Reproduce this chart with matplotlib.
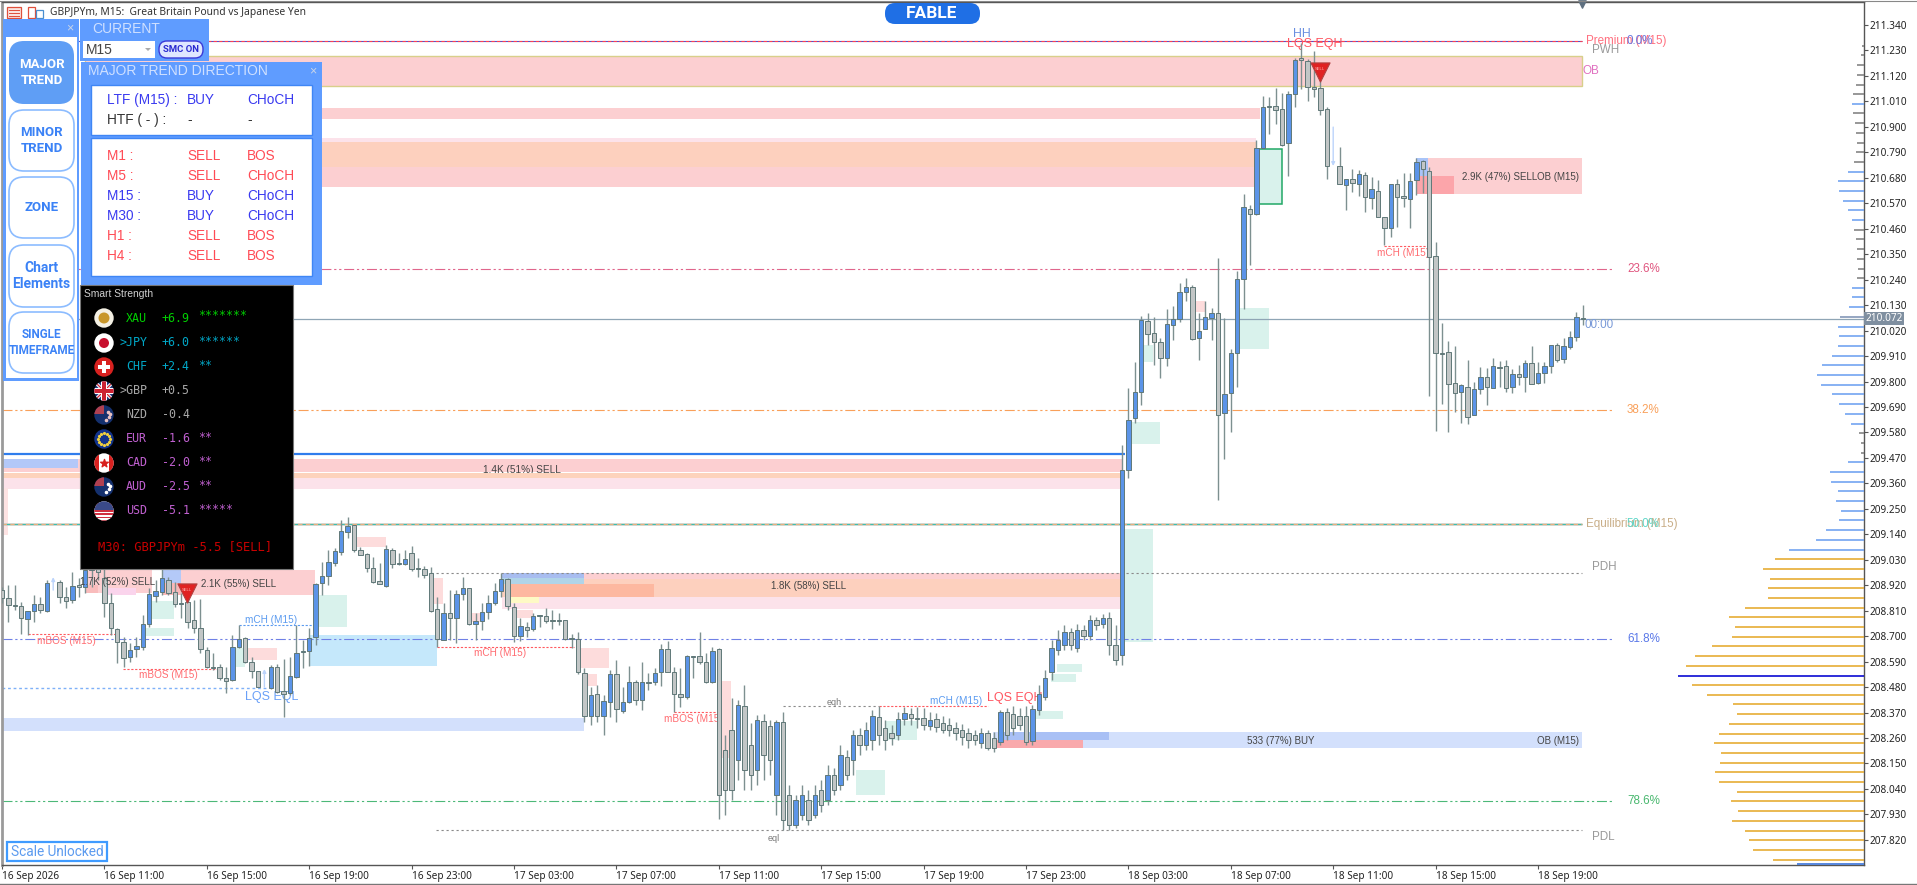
import numpy as np
import matplotlib
matplotlib.use("Agg")
import matplotlib.pyplot as plt
from matplotlib.patches import Rectangle, FancyBboxPatch, Circle, Polygon

plt.rcParams["font.family"] = ["Liberation Sans", "DejaVu Sans"]
nan = float("nan")

# candles, M15
opens = [208.899, 208.865, 208.834, 208.830, 208.774, 208.809, 208.839, 208.809, nan, 208.934,
         208.869, 208.856, 208.921, 208.912, 208.986, 209.050, 208.951, 208.843, 208.730, 208.674,
         208.610, 208.644, 208.653, 208.752, 208.873, 208.891, 208.942, 208.891, 208.839, 208.847,
         208.770, 208.735, 208.640, 208.566, 208.566, 208.519, 208.510, 208.653, 208.692, 208.588,
         208.549, nan, 208.476, 208.566, 208.463, 208.454, 208.523, 208.631, 208.636, 208.696,
         208.929, 208.960, 209.016, 209.063, 209.150, 209.180, 209.072, 209.055, 208.994, 208.938,
         208.916, 209.072, 209.011, 209.011, 209.059, 208.994, 208.990, 208.973, 208.817, 208.683,
         208.800, 208.778, 208.882, 208.908, 208.752, 208.765, 208.804, 208.843, 208.895, 208.947,
         208.826, 208.700, 208.739, 208.730, 208.787, 208.787, 208.770, 208.770, 208.770, 208.692,
         208.687, 208.541, 208.355, 208.450, 208.355, 208.415, 208.536, 208.376, 208.415, 208.502,
         208.424, 208.502, 208.502, 208.545, 208.644, 208.545, 208.450, 208.437, 208.610, 208.614,
         208.588, 208.502, 208.644, 208.208, 208.294, 208.165, 208.398, 208.230, 208.122, 208.333,
         208.312, 208.013, 208.329, 208.013, 207.884, 207.927, 207.992, 207.927, 208.035, 207.992,
         208.100, 208.057, 208.178, 208.165, 208.273, 208.230, 208.251, 208.350, 208.303, 208.281,
         208.273, 208.342, 208.363, 208.346, 208.346, 208.312, 208.342, 208.325, 208.316, 208.303,
         208.294, 208.281, 208.273, 208.238, 208.281, 208.260, 208.242, 208.372, 208.363, 208.355,
         208.355, 208.247, 208.381, 208.437, 208.545, 208.640, 208.662, 208.718, 208.649, 208.726,
         208.700, 208.770, 208.752, 208.778, 208.662, 208.618, 209.418, 209.642, 209.755, 210.061,
         210.009, 209.971, 209.901, 210.044, 210.070, 210.187, 210.208, 209.988, 210.027, 210.074,
         210.096, 209.664, 209.750, 209.923, 210.243, 210.545, 210.524, 210.809, 210.990, 210.990,
         210.977, 210.830, 211.042, 211.197, 211.184, 211.072, 211.068, 210.977, nan, 210.731,
         210.649, 210.675, 210.653, 210.692, 210.593, 210.623, 210.511, 210.463, 210.653, 210.601,
         210.588, 210.670, 210.752, 210.709, 210.342, 209.923, 209.927, 209.793, 209.755, 209.776,
         209.655, 209.768, 209.819, 209.772, 209.863, 209.867, 209.776, 209.832, 209.819, 209.880,
         209.793, 209.837, 209.867, 209.958, 209.897, 209.949, 209.992, 210.072]
highs = [208.912, 208.921, 208.921, 208.847, 208.809, 208.878, 208.869, 208.942, nan, 208.942,
         208.912, 208.977, 208.951, 209.029, 209.050, 209.072, 209.050, 208.886, 208.735, 208.696,
         208.670, 208.696, 208.791, 208.908, 208.942, 208.994, 208.955, 208.934, 208.886, 208.869,
         208.856, 208.860, 208.653, 208.627, 208.579, 208.566, 208.705, 208.748, 208.696, 208.610,
         208.549, nan, 208.575, 208.579, 208.601, 208.610, 208.748, 208.683, 208.735, 208.929,
         209.020, 209.072, 209.081, 209.202, 209.215, 209.180, 209.085, 209.059, 209.042, 209.016,
         209.094, 209.081, 209.059, 209.072, 209.089, 209.037, 209.003, 208.999, 208.869, 208.843,
         208.899, 208.899, 208.955, 208.908, 208.800, 208.843, 208.878, 208.929, 208.973, 208.951,
         208.843, 208.778, 208.761, 208.800, 208.791, 208.821, 208.813, 208.800, 208.770, 208.709,
         208.718, 208.562, 208.480, 208.489, 208.445, 208.554, 208.597, 208.480, 208.571, 208.510,
         208.588, 208.541, 208.562, 208.666, 208.679, 208.566, 208.562, 208.618, 208.614, 208.718,
         208.627, 208.653, 208.649, 208.273, 208.432, 208.424, 208.489, 208.325, 208.359, 208.363,
         208.338, 208.338, 208.372, 208.057, 208.013, 208.057, 208.035, 208.057, 208.078, 208.143,
         208.130, 208.230, 208.208, 208.294, 208.303, 208.329, 208.381, 208.398, 208.338, 208.316,
         208.372, 208.394, 208.389, 208.394, 208.389, 208.372, 208.368, 208.355, 208.346, 208.329,
         208.320, 208.303, 208.294, 208.303, 208.294, 208.286, 208.381, 208.389, 208.398, 208.389,
         208.398, 208.402, 208.489, 208.554, 208.683, 208.726, 208.748, 208.735, 208.752, 208.748,
         208.791, 208.783, 208.796, 208.804, 208.748, 209.526, 209.772, 209.884, 210.083, 210.096,
         210.079, 209.988, 210.113, 210.126, 210.225, 210.247, 210.217, 210.096, 210.148, 210.117,
         210.333, 210.074, 209.940, 210.277, 210.610, 210.562, 210.843, 211.033, 211.029, 211.068,
         211.046, 211.055, 211.197, 211.262, 211.193, 211.228, 211.102, 210.986, nan, 210.813,
         210.675, 210.718, 210.714, 210.705, 210.683, 210.670, 210.511, 210.653, 210.675, 210.701,
         210.701, 210.765, 210.757, 210.727, 210.403, 210.053, 209.975, 209.953, 209.789, 209.893,
         209.798, 209.863, 209.858, 209.901, 209.888, 209.893, 209.854, 209.871, 209.893, 209.953,
         209.884, 209.884, 209.958, 209.966, 209.988, 210.018, 210.100, 210.130]
lows = [208.843, 208.761, 208.813, 208.709, 208.705, 208.761, 208.800, 208.804, nan, 208.843,
        208.821, 208.843, 208.869, 208.886, 208.912, 208.942, 208.783, 208.705, 208.584, 208.566,
        208.588, 208.610, 208.640, 208.739, 208.847, 208.878, 208.878, 208.826, 208.778, 208.735,
        208.713, 208.627, 208.562, 208.554, 208.510, 208.454, 208.506, 208.649, 208.584, 208.519,
        208.480, nan, 208.471, 208.454, 208.350, 208.445, 208.519, 208.562, 208.571, 208.662,
        208.878, 208.921, 209.003, 209.050, 209.124, 209.063, 209.050, 208.977, 208.929, 208.925,
        208.912, 208.994, 209.007, 209.007, 208.981, 208.955, 208.951, 208.804, 208.653, 208.683,
        208.683, 208.670, 208.856, 208.748, 208.683, 208.726, 208.774, 208.834, 208.869, 208.813,
        208.674, 208.679, 208.696, 208.722, 208.739, 208.757, 208.730, 208.748, 208.683, 208.649,
        208.536, 208.329, 208.316, 208.329, 208.273, 208.350, 208.329, 208.368, 208.411, 208.402,
        208.381, 208.467, 208.489, 208.484, 208.545, 208.372, 208.394, 208.428, 208.519, 208.579,
        208.497, 208.497, 207.910, 207.927, 207.992, 208.078, 208.035, 208.035, 208.057, 208.078,
        208.100, 207.927, 207.862, 207.862, 207.871, 207.906, 207.884, 207.914, 207.940, 207.970,
        208.013, 208.035, 208.078, 208.100, 208.186, 208.208, 208.208, 208.230, 208.208, 208.230,
        208.251, 208.316, 208.316, 208.303, 208.294, 208.294, 208.286, 208.281, 208.268, 208.251,
        208.230, 208.217, 208.230, 208.217, 208.208, 208.199, 208.230, 208.251, 208.273, 208.294,
        208.230, 208.230, 208.359, 208.424, 208.510, 208.618, 208.640, 208.640, 208.631, 208.683,
        208.683, 208.726, 208.735, 208.618, 208.575, 208.575, 209.383, 209.621, 209.698, 209.958,
        209.871, 209.815, 209.867, 209.979, 210.057, 210.148, 209.979, 209.893, 210.027, 209.979,
        209.288, 209.465, 209.582, 209.776, 210.113, 210.303, 210.519, 210.809, 210.869, 210.912,
        210.817, 210.688, 210.986, 211.064, 211.012, 211.029, 210.951, 210.675, nan, 210.653,
        210.541, 210.619, 210.601, 210.532, 210.545, 210.511, 210.390, 210.424, 210.467, 210.554,
        210.463, 210.606, 210.614, 209.737, 209.586, 209.703, 209.582, 209.668, 209.621, 209.616,
        209.655, 209.746, 209.698, 209.772, 209.776, 209.755, 209.750, 209.785, 209.755, 209.789,
        209.789, 209.793, 209.837, 209.884, 209.880, 209.940, 209.975, 210.044]
closes = [208.865, 208.834, 208.830, 208.778, 208.809, 208.839, 208.813, 208.929, nan, 208.869,
          208.852, 208.916, 208.912, 208.986, 209.029, 208.977, 208.843, 208.735, 208.674, 208.605,
          208.640, 208.657, 208.752, 208.882, 208.895, 208.951, 208.886, 208.839, 208.843, 208.761,
          208.735, 208.644, 208.566, 208.562, 208.519, 208.506, 208.653, 208.687, 208.588, 208.549,
          208.480, nan, 208.566, 208.458, 208.450, 208.528, 208.627, 208.636, 208.692, 208.925,
          208.960, 209.020, 209.068, 209.154, 209.176, 209.072, 209.050, 208.994, 208.934, 208.925,
          209.076, 209.011, 209.016, 209.033, 208.990, 208.990, 208.964, 208.809, 208.687, 208.800,
          208.778, 208.882, 208.908, 208.752, 208.765, 208.804, 208.843, 208.895, 208.947, 208.830,
          208.700, 208.744, 208.726, 208.787, 208.791, 208.765, 208.765, 208.765, 208.687, 208.687,
          208.545, 208.355, 208.445, 208.355, 208.420, 208.536, 208.385, 208.415, 208.502, 208.424,
          208.502, 208.497, 208.541, 208.644, 208.545, 208.450, 208.437, 208.614, 208.614, 208.588,
          208.502, 208.636, 208.013, 208.035, 208.035, 208.402, 208.122, 208.100, 208.338, 208.186,
          208.165, 208.329, 207.906, 207.884, 207.992, 208.013, 207.906, 208.013, 207.970, 208.100,
          208.035, 208.186, 208.100, 208.273, 208.230, 208.294, 208.355, 208.273, 208.251, 208.260,
          208.342, 208.368, 208.346, 208.342, 208.316, 208.338, 208.307, 208.294, 208.294, 208.281,
          208.264, 208.251, 208.251, 208.281, 208.217, 208.217, 208.372, 208.273, 208.303, 208.316,
          208.242, 208.385, 208.450, 208.519, 208.649, 208.683, 208.718, 208.662, 208.726, 208.700,
          208.770, 208.748, 208.778, 208.662, 208.597, 209.418, 209.634, 209.755, 210.066, 210.005,
          209.971, 209.901, 210.048, 210.070, 210.187, 210.208, 209.984, 210.018, 210.079, 210.096,
          209.655, 209.746, 209.923, 210.243, 210.554, 210.524, 210.809, 210.986, 210.986, 210.973,
          210.822, 211.042, 211.189, 211.189, 211.072, 211.064, 210.973, 210.731, nan, 210.653,
          210.675, 210.657, 210.696, 210.597, 210.631, 210.511, 210.463, 210.653, 210.597, 210.593,
          210.666, 210.748, 210.718, 210.338, 209.923, 209.919, 209.789, 209.750, 209.785, 209.647,
          209.768, 209.819, 209.776, 209.867, 209.858, 209.772, 209.832, 209.819, 209.880, 209.789,
          209.837, 209.867, 209.958, 209.893, 209.953, 209.992, 210.079, 210.074]

price_ticks = [211.34, 211.23, 211.12, 211.01, 210.90, 210.79, 210.68, 210.57, 210.46, 210.35, 210.24,
               210.13, 210.02, 209.91, 209.80, 209.69, 209.58, 209.47, 209.36, 209.25, 209.14, 209.03,
               208.92, 208.81, 208.70, 208.59, 208.48, 208.37, 208.26, 208.15, 208.04, 207.93, 207.82]
time_labels = ["16 Sep 2026", "16 Sep 11:00", "16 Sep 15:00", "16 Sep 19:00", "16 Sep 23:00", "17 Sep 03:00",
               "17 Sep 07:00", "17 Sep 11:00", "17 Sep 15:00", "17 Sep 19:00", "17 Sep 23:00", "18 Sep 03:00",
               "18 Sep 07:00", "18 Sep 11:00", "18 Sep 15:00", "18 Sep 19:00"]
time_bars = [0, 16, 32, 48, 64, 80, 96, 112, 128, 144, 160, 176, 192, 208, 224, 240]

# volume profile on the right
vp_prices = [211.251, 211.209, 211.167, 211.125, 211.083, 211.042, 211.000, 210.958, 210.916, 210.874,
             210.832, 210.790, 210.749, 210.707, 210.665, 210.623, 210.581, 210.539, 210.497, 210.456,
             210.414, 210.372, 210.330, 210.288, 210.246, 210.204, 210.163, 210.121, 210.079, 210.037,
             209.995, 209.953, 209.911, 209.870, 209.828, 209.786, 209.744, 209.702, 209.660, 209.618,
             209.577, 209.535, 209.493, 209.451, 209.409, 209.367, 209.325, 209.284, 209.242, 209.200,
             209.158, 209.116, 209.074, 209.032, 208.991, 208.949, 208.907, 208.865, 208.823, 208.781,
             208.739, 208.698, 208.656, 208.614, 208.572, 208.530, 208.488, 208.446, 208.405, 208.363,
             208.321, 208.279, 208.237, 208.195, 208.153, 208.112, 208.070, 208.028, 207.986, 207.944,
             207.902, 207.860, 207.819, 207.777, 207.735]
vp_volumes = [5, 8, 20, 20, 25, 32, 37, 32, 27, 25, 20, 25, 30, 48, 77, 75, 63, 48, 37, 30,
              25, 20, 20, 18, 20, 37, 37, 45, 72, 77, 75, 77, 95, 125, 140, 128, 95, 75, 57, 38,
              15, 10, 8, 48, 102, 98, 77, 85, 68, 75, 115, 145, 224, 267, 303, 282, 288, 288, 358, 404,
              387, 395, 456, 507, 533, 558, 517, 471, 392, 380, 404, 435, 450, 430, 432, 447, 435, 380, 398, 377,
              395, 358, 344, 332, 272]
vp_grey = [0, 1, 2, 3, 4, 5, 7, 8, 9, 10, 11, 12, 19, 20, 21, 22, 23, 24, 40, 41, 42]
vp_first_orange = 53
vp_poc = 65

# supply/demand zones: first bar, last bar, top price, bottom price, colour
zone_x0 = [13, 32.5, 32.5, 32.5, 32.5, 0, 0, 25, 25, 25, 13, 16.4, 13,
           23.1, 22.5, 36.1, 38.4, 49.2, 48.1, 55.3, 67.3, 73.3, 90.3, 91.4, 80.3, 112.5, 16,
           78.1, 78.1, 78.1, 78.1, 78.1, 79, 79, 0, 154.8, 156.3, 154.8, 221, 221, 221,
           178.3, 193.3, 176.3, 186.3, 175, 133.4, 138.1, 164.8, 163.9, 161]
zone_x1 = [246.9, 196.6, 196, 196, 196, 175, 11.9, 48.9, 28, 28, 23.4, 21, 15,
           26.9, 26.9, 38, 43, 53.9, 68, 60, 68.9, 74.7, 94.8, 93, 83, 113.9, 16,
           174.8, 174.8, 174.8, 90.9, 90.9, 101.9, 83.9, 91, 246.9, 173, 168.9, 246.9, 222.8, 226.9,
           179.8, 198, 180.9, 188, 179.8, 138, 143, 168.8, 167.8, 165.8]
zone_top = [211.206, 210.981, 210.852, 210.835, 210.727, 209.465, 209.465, 208.986, 208.986, 208.929, 208.986, 208.908, 208.921,
            208.852, 208.735, 208.649, 208.649, 208.878, 208.705, 209.128, 208.951, 208.800, 208.649, 208.536, 208.813, 208.506, 208.000,
            208.973, 208.947, 208.869, 208.973, 208.951, 208.925, 208.869, 208.346, 208.286, 208.286, 208.251, 210.765, 210.765, 210.688,
            209.958, 210.117, 209.625, 210.148, 209.163, 208.122, 208.333, 208.579, 208.536, 208.376]
zone_bot = [211.078, 210.934, 210.835, 210.727, 210.640, 209.409, 209.426, 208.878, 208.929, 208.878, 208.886, 208.878, 208.886,
            208.774, 208.700, 208.566, 208.597, 208.739, 208.571, 209.085, 208.839, 208.761, 208.562, 208.484, 208.778, 208.173, 208.000,
            208.947, 208.869, 208.817, 208.951, 208.925, 208.869, 208.843, 208.290, 208.217, 208.251, 208.217, 210.610, 210.688, 210.610,
            209.884, 209.940, 209.530, 210.100, 208.674, 208.013, 208.251, 208.545, 208.502, 208.342]
pink, lpink, oran, ppale, green = "#fccfd1", "#fce2ea", "#fdd0be", "#fddcdc", "#d9f2ec"
pale_blue = "#d3e0fc"
zone_color = [pink, pink, lpink, oran, pink, pink, "#b3c8f8", pink, "#b4c9f8", "#f9b8b8", pink, "#fad4ec", "#f9bcbc",
              green, green, green, ppale, green, "#c5e8fb", ppale, ppale, ppale, ppale, ppale, ppale, ppale, ppale,
              pink, oran, lpink, "#a8bdf0", "#b0d4e8", "#fdb8a0", "#fefac5", pale_blue, pale_blue, "#a9c0f5", "#f9a9ac", pink, "#a9c4f8", "#fca5aa",
              green, green, green, ppale, green, green, green, green, green, green]

# fib and session levels: price, first bar, last bar, colour, style
fib_dash = (0, (9, 2.5, 2, 2.5, 2, 2.5))
level_price = [211.273, 210.284, 209.675, 208.686, 207.986, 209.183, 209.183, 211.273]
level_x1 = [246.9, 251.6, 251.6, 251.6, 251.6, 246.9, 246.9, 246.9]
level_color = ["#5a50c8", "#e0668c", "#f9a05a", "#6f80e6", "#4cb878", "#3cc0b0", "#e8b080", "#ff4050"]
level_style = ["-", fib_dash, fib_dash, fib_dash, fib_dash, "-", (0, (4, 3)), (0, (3, 2))]
dash_price = [208.971, 207.862, 208.398]
dash_x0 = [67, 67.8, 122]
dash_x1 = [246.9, 246.9, 137]
struct_price = [208.709, 208.558, 208.653, 208.372, 210.387, 208.398]
struct_x0 = [4, 18.9, 68, 105, 216, 137]
struct_x1 = [17.7, 33.6, 89.3, 112, 223, 154]

# chart labels: bar, price, text, colour, size, horizontal alignment
lab_x = [12.2, 31.1, 120.2, 228.1, 246.4, 194.5, 246.4,
         5.5, 21.4, 103.4, 73.8, 214.8,
         38, 145, 38, 153.9, 200.8, 201.7, 128.8, 119.7,
         247.5, 253.9, 248.4, 247, 253.9, 253.9, 253.9, 253.9, 247.5, 253.9, 248.4, 248.4, 247.2]
lab_y = [208.934, 208.925, 208.916, 210.683, 210.683, 208.247, 208.247,
         208.679, 208.532, 208.342, 208.627, 210.355,
         208.770, 208.420, 208.437, 208.432, 211.258, 211.301, 208.415, 207.828,
         211.273, 211.273, 211.232, 211.141, 210.284, 209.675, 208.686, 207.986, 209.183, 209.183, 208.999, 207.832, 210.044]
lab_text = ["1.7K (52%) SELL", "2.1K (55%) SELL", "1.8K (58%) SELL", "2.9K (47%) SELL", "OB (M15)", "533 (77%) BUY", "OB (M15)",
            "mBOS (M15)", "mBOS (M15)", "mBOS (M15", "mCH (M15)", "mCH (M15)",
            "mCH (M15)", "mCH (M15)", "LQS EQL", "LQS EQH", "LQS EQH", "HH", "eqh", "eql",
            "Premium (M15)", "0.0%", "PWH", "OB", "23.6%", "38.2%", "61.8%", "78.6%", "Equilibrium (M15)", "50.0%", "PDH", "PDL", "00:00"]
dark_t, red_t, blue_t, grey_t = "#444444", "#ff6b70", "#5b9bf0", "#9a9a9a"
lab_color = [dark_t] * 7 + [red_t] * 5 + [blue_t, blue_t, "#6aa0f8", "#ff5560", "#ff5560", "#6a8fe0", "#777777", "#777777",
             "#ff6f7f", "#6a78e0", grey_t, "#e070c0", "#e0557f", "#f9a05a", "#5a78e8", "#49b86f", "#c9ae88", "#5fd6c8", grey_t, grey_t, "#7a9ad8"]
lab_size = [7.0] * 7 + [7.2] * 5 + [7.2, 7.2, 9, 9, 9, 8.8, 6.5, 6.5] + [8.4] * 13
lab_ha = ["left"] * 4 + ["right", "left", "right"] + ["left"] * 26
lab_z = [5.5] + [1.7] * 32

arrow_bar = [8, 41, 208]
arrow_from = [208.899, 208.480, 210.899]
arrow_to = [208.955, 208.558, 210.731]
sell_bar = [28.9, 206]
sell_price = [208.886, 211.137]

# panels
panel_ltf = [("LTF (M15) :", "BUY", "CHoCH"), ("HTF ( - ) :", "-", "-")]
panel_tf = [("M1 :", "SELL", "BOS"), ("M5 :", "SELL", "CHoCH"), ("M15 :", "BUY", "CHoCH"),
            ("M30 :", "BUY", "CHoCH"), ("H1 :", "SELL", "BOS"), ("H4 :", "SELL", "BOS")]
strength_names = ["XAU", ">JPY", "CHF", ">GBP", "NZD", "EUR", "CAD", "AUD", "USD"]
strength_vals = ["+6.9", "+6.0", "+2.4", "+0.5", "-0.4", "-1.6", "-2.0", "-2.5", "-5.1"]
strength_stars = [7, 6, 2, 0, 0, 2, 2, 2, 5]
strength_cols = ["#00d000", "#00a8c8", "#00a8c8", "#a8a8a8", "#a8a8a8", "#c060d0", "#c060d0", "#c060d0", "#c060d0"]
buttons = ["MAJOR\nTREND", "MINOR\nTREND", "ZONE", "Chart\nElements", "SINGLE\nTIMEFRAME"]
button_sizes = [9.5, 9.5, 9.5, 10, 8.5]

fig = plt.figure(figsize=(19.17, 8.85), dpi=100, facecolor="white")
ax = fig.add_axes([2 / 1917, 20 / 885, 1862 / 1917, 863 / 885])
ax.set_xlim(0, 1862 / 6.4)
ax.set_ylim(207.7115, 211.4394)

o = np.array(opens)
h = np.array(highs)
l = np.array(lows)
c = np.array(closes)
x = np.arange(len(o))

# zones
for i in range(len(zone_x0)):
    edge = "#d8cf8a" if i == 0 else "none"
    ax.add_patch(Rectangle((zone_x0[i], zone_bot[i]), zone_x1[i] - zone_x0[i], zone_top[i] - zone_bot[i],
                           facecolor=zone_color[i], edgecolor=edge, lw=1.0, zorder=1))
ax.add_patch(Rectangle((196.2, 210.567), 3.8, 0.237, facecolor=green, edgecolor="#22a866", lw=1.1, zorder=1.2))

# text gets cut by the strip under it
ax.text(75.2, 209.418, "1.4K (51%) SELL", color=dark_t, fontsize=7.2, va="center", zorder=1.25)
ax.add_patch(Rectangle((0, 209.383), 175, 0.022, facecolor="#fdd3bc", edgecolor="none", zorder=1.3))
ax.add_patch(Rectangle((0, 209.336), 175, 0.047, facecolor=lpink, edgecolor="none", zorder=1.3))
ax.add_patch(Rectangle((0, 209.137), 1, 0.203, facecolor="#fde3e3", edgecolor="none", zorder=1.3))

# levels
for i in range(len(level_price)):
    ax.hlines(level_price[i], 0, level_x1[i], color=level_color[i], lw=0.8, linestyles=[level_style[i]], zorder=1.5)
ax.hlines(209.183, 0, 246.9, color="#d0d0c8", lw=1.8, zorder=1.4)
ax.hlines(209.487, 0, 175.5, color="#2f7ded", lw=1.6, zorder=1.5)
ax.hlines(210.072, 0, 290.94, color="#8fa5b5", lw=0.9, zorder=1.5)
ax.hlines(208.477, 0, 41.5, color="#7eb0f8", lw=1.0, linestyles=[(0, (2, 2))], zorder=1.5)
ax.hlines(dash_price, dash_x0, dash_x1, color="#8a8a8a", lw=0.8, linestyles=[(0, (2, 2.5))], zorder=1.5)
ax.hlines(struct_price, struct_x0, struct_x1, color="#ff5a60", lw=0.8, linestyles=[(0, (2, 1.5))], zorder=1.5)
ax.hlines(208.748, 37, 48.6, color="#5b9bf0", lw=0.8, linestyles=[(0, (2, 1.5))], zorder=1.5)

for i in range(len(lab_text)):
    ax.text(lab_x[i], lab_y[i], lab_text[i], color=lab_color[i], fontsize=lab_size[i], ha=lab_ha[i],
            va="center", zorder=lab_z[i], clip_on=False)

for i in range(len(arrow_bar)):
    ax.annotate("", xy=(arrow_bar[i], arrow_to[i]), xytext=(arrow_bar[i], arrow_from[i]),
                arrowprops=dict(arrowstyle="-|>", color="#bcd4fb", lw=1, mutation_scale=5, shrinkA=0, shrinkB=0), zorder=2)

# volume profile
vp_v = np.array(vp_volumes) / 19.2
vp_c = ["#6da0f0"] * len(vp_v)
for i in vp_grey:
    vp_c[i] = "#808080"
for i in range(vp_first_orange, len(vp_c)):
    vp_c[i] = "#e5a92c"
vp_c[vp_poc] = "#0000d0"
vp_c[28] = "#7f93b5"
ax.hlines(vp_prices, 290.94 - vp_v, 290.94, colors=vp_c, lw=1.15, zorder=3)
ax.hlines(207.716, 290.94 - 10.4, 290.94, color="#4a7fdc", lw=1.3, zorder=3)

# candles
up = c >= o
ax.vlines(x, l, h, color="#7d9090", lw=1.0, zorder=4)
ax.bar(x, np.maximum(np.abs(c - o), 0.004), bottom=np.minimum(o, c), width=0.68,
       color=np.where(up, "#5b94e8", "#c2c6c6"), edgecolor="#607878", linewidth=0.7, zorder=5)

ax.scatter(sell_bar, sell_price, marker="v", s=190, color="#e02222", edgecolor="#b04040", linewidth=0.8, zorder=6)
for i in range(len(sell_bar)):
    ax.text(sell_bar[i], sell_price[i] + 0.012, "SELL", color="#ffb0b0", fontsize=3, ha="center", va="center", zorder=7)

# axes
ax.yaxis.tick_right()
ax.set_yticks(price_ticks)
ax.set_yticklabels(["%.3f" % p for p in price_ticks], fontfamily="Noto Sans", fontsize=7.2, color="#222222")
ax.set_xticks(time_bars)
ax.set_xticklabels(time_labels, fontfamily="Noto Sans", fontsize=7.2, color="#222222", ha="left")
ax.tick_params(axis="both", length=3, width=0.8, color="#555555", pad=1)
for s in ["top", "right", "bottom"]:
    ax.spines[s].set_color("#555555")
    ax.spines[s].set_linewidth(1.0)
ax.spines["left"].set_color("#9a9a9a")
ax.spines["left"].set_linewidth(2.0)

ax.text(1.0008, 210.072, "210.072", transform=ax.get_yaxis_transform(), fontfamily="Noto Sans", fontsize=7.2, color="white",
        va="center", ha="left", clip_on=False, zorder=8,
        bbox=dict(boxstyle="square,pad=0.12", facecolor="#7f8fa0", edgecolor="none"))
ax.scatter([246.9], [211.43], marker="v", s=28, color="#5f7080", zorder=8, clip_on=False)

# ui layer in pixels
ui = fig.add_axes([0, 0, 1, 1], zorder=5)
ui.set_xlim(0, 1917)
ui.set_ylim(885, 0)
ui.axis("off")
ui.patch.set_alpha(0)


def box(x0, y0, x1, y1, fc, ec="none", lw=0, z=1):
    ui.add_patch(Rectangle((x0, y0), x1 - x0, y1 - y0, facecolor=fc, edgecolor=ec, lw=lw, zorder=z))


def rbox(x0, y0, x1, y1, r, fc, ec="none", lw=0, z=2):
    ui.add_patch(FancyBboxPatch((x0, y0), x1 - x0, y1 - y0, boxstyle="round,pad=0,rounding_size=%g" % r,
                                facecolor=fc, edgecolor=ec, lw=lw, zorder=z))


def label(px, py, s, col, size, ha="left", weight="normal", family=None, z=4):
    kw = {"family": family} if family else {}
    ui.text(px, py, s, color=col, fontsize=size, ha=ha, va="center", fontweight=weight, zorder=z, **kw)


ui.plot([0, 1917], [884, 884], color="#777777", lw=1)
ui.plot([0, 1917], [1, 1], color="#888888", lw=0.8)

# header
label(50, 13, "GBPJPYm, M15:  Great Britain Pound vs Japanese Yen", "#333333", 7.4, family="Noto Sans")
box(7, 7, 21, 18, "#fbe5e0", "#e0503c", 0.9)
for yy in [10, 13, 15.5]:
    ui.plot([9, 19], [yy, yy], color="#e0503c", lw=0.7, zorder=3)
box(28, 7, 35, 18, "white", "#e0503c", 0.9)
box(36, 10, 43, 18, "white", "#4a8fd0", 0.9)
rbox(885, 3, 980, 24, 10, "#1f6fe5")
label(932, 13.5, "FABLE", "white", 12.5, ha="center", weight="bold", family="Roboto")

# left buttons
box(3, 19, 79, 381, "#5f9cff", z=1)
box(6, 37, 77, 378, "white", z=1.5)
label(70, 28, "×", "#c8d4e8", 9, ha="center")
btn_y = [(41, 104), (110, 171), (177, 238), (245, 307), (312, 373)]
for n, (y0, y1) in enumerate(btn_y):
    if n == 0:
        rbox(9, y0, 74, y1, 15, "#5f9ef5")
        col = "white"
    else:
        rbox(9, y0, 74, y1, 15, "white", "#8cbcff", 1.2)
        col = "#3b82f6"
    label(41.5, (y0 + y1) / 2, buttons[n], col, button_sizes[n], ha="center", weight="bold", family="Roboto")

# current panel
box(80, 19, 209, 61, "#5f9cff", z=1)
label(92, 29, "CURRENT", "#cfe0ff", 10)
box(83, 41, 155, 58, "white", z=2)
label(86, 49.5, "M15", "#444444", 10)
ui.add_patch(Polygon([[145, 48], [151, 48], [148, 51]], closed=True, facecolor="#aaaaaa", edgecolor="none", zorder=3))
rbox(159, 41, 203, 58, 8, "#dfe6ff", "#3a3ad8", 1)
label(181, 49.5, "SMC ON", "#2a2ad0", 6.8, ha="center", weight="bold", family="Roboto")

# trend panel
box(81, 62, 322, 285, "#5f9cff", z=1)
label(88, 71, "MAJOR TREND DIRECTION", "#cfe0ff", 10)
label(313, 71, "×", "#c8d4e8", 9, ha="center")
box(91, 85, 312, 135, "white", "#3f86f5", 1, z=2)
box(91, 138, 312, 276, "white", "#3f86f5", 1, z=2)
rows_y = [100, 120]
for r, row in enumerate(panel_ltf):
    col = "#3a3af0" if r == 0 else "#333333"
    label(107, rows_y[r], row[0], col, 9.8)
    label(187, rows_y[r], row[1], col, 9.8)
    label(247, rows_y[r], row[2], col, 9.8)
rows_y = [156, 176, 196, 216, 236, 256]
for r, row in enumerate(panel_tf):
    col = "#3a3af0" if row[1] == "BUY" else "#ff4b55"
    label(107, rows_y[r], row[0], col, 9.8)
    label(187, rows_y[r], row[1], col, 9.8)
    label(247, rows_y[r], row[2], col, 9.8)

# strength panel
box(80, 285, 293, 569, "black", "#777777", 0.8, z=2)
label(84, 294, "Smart Strength", "#d0d0d0", 7.4)
mono = "DejaVu Sans Mono"
rows_y = [318, 343, 367, 391, 415, 439, 463, 487, 511]
for r, name in enumerate(strength_names):
    col = strength_cols[r]
    label(126 if name[0] != ">" else 119, rows_y[r], name, col, 8.4, family=mono)
    label(162, rows_y[r], strength_vals[r], col, 8.4, family=mono)
    if strength_stars[r]:
        label(198, rows_y[r] - 2, "*" * strength_stars[r], col, 8.4, family=mono)
label(98, 547, "M30: GBPJPYm -5.5 [SELL]", "#c80000", 8.7, family=mono)

# flags
flag_base = ["#f4f0e4", "white", "#d8211f", "#1f3a80", "#14306e", "#13348c", "white", "#14306e", "white"]
for r, fc in enumerate(flag_base):
    cx, cy = 104, rows_y[r]
    disc = Circle((cx, cy), 9.7, facecolor=fc, edgecolor="none", zorder=3)
    ui.add_patch(disc)
    if r == 0:
        ui.add_patch(Circle((cx, cy), 5.5, facecolor="#c8962a", zorder=3.1))
    elif r == 1:
        ui.add_patch(Circle((cx, cy), 5, facecolor="#c8102e", zorder=3.1))
    elif r == 2:
        box(cx - 6, cy - 2, cx + 6, cy + 2, "white", z=3.1)
        box(cx - 2, cy - 6, cx + 2, cy + 6, "white", z=3.1)
    elif r == 3:
        for sgn in [1, -1]:
            ln, = ui.plot([cx - 10, cx + 10], [cy - 10 * sgn, cy + 10 * sgn], color="white", lw=2.4, zorder=3.1)
            ln.set_clip_path(disc)
            ln, = ui.plot([cx - 10, cx + 10], [cy - 10 * sgn, cy + 10 * sgn], color="#cc2233", lw=0.9, zorder=3.2)
            ln.set_clip_path(disc)
        p1 = Rectangle((cx - 10, cy - 3), 20, 6, facecolor="white", zorder=3.3)
        p2 = Rectangle((cx - 3, cy - 10), 6, 20, facecolor="white", zorder=3.3)
        p3 = Rectangle((cx - 10, cy - 1.6), 20, 3.2, facecolor="#cc2233", zorder=3.4)
        p4 = Rectangle((cx - 1.6, cy - 10), 3.2, 20, facecolor="#cc2233", zorder=3.4)
        for p in [p1, p2, p3, p4]:
            ui.add_patch(p)
            p.set_clip_path(disc)
    elif r in (4, 7):
        p = Rectangle((cx - 10, cy - 10), 10, 9, facecolor="#b04050", zorder=3.1)
        ui.add_patch(p)
        p.set_clip_path(disc)
        ui.scatter([cx + 4, cx + 5, cx + 2, cx + 6], [cy - 3, cy + 2, cy + 5, cy - 1], s=2.5, color="#e8c0c0" if r == 4 else "white", zorder=3.2)
    elif r == 5:
        ang = np.radians(np.arange(0, 360, 30))
        ui.scatter(cx + 6 * np.cos(ang), cy + 6 * np.sin(ang), s=1.6, color="#f0d040", zorder=3.1)
    elif r == 6:
        for xs in [cx - 10, cx + 5]:
            p = Rectangle((xs, cy - 10), 5, 20, facecolor="#d8211f", zorder=3.1)
            ui.add_patch(p)
            p.set_clip_path(disc)
        ui.scatter([cx], [cy], marker="*", s=34, color="#d8211f", zorder=3.1)
    elif r == 8:
        for yy in np.arange(-8, 10, 3.4):
            p = Rectangle((cx - 10, cy + yy), 20, 1.7, facecolor="#d03040", zorder=3.1)
            ui.add_patch(p)
            p.set_clip_path(disc)
        p = Rectangle((cx - 10, cy - 10), 20, 9, facecolor="#3a4a88", zorder=3.2)
        ui.add_patch(p)
        p.set_clip_path(disc)

# scale box
box(7, 842, 107, 861, "white", "#3f9bff", 1.6, z=2)
label(11, 852, "Scale Unlocked", "#5b9bf0", 9.8, family="Roboto")

fig.savefig("out.png", dpi=100, facecolor="white")
